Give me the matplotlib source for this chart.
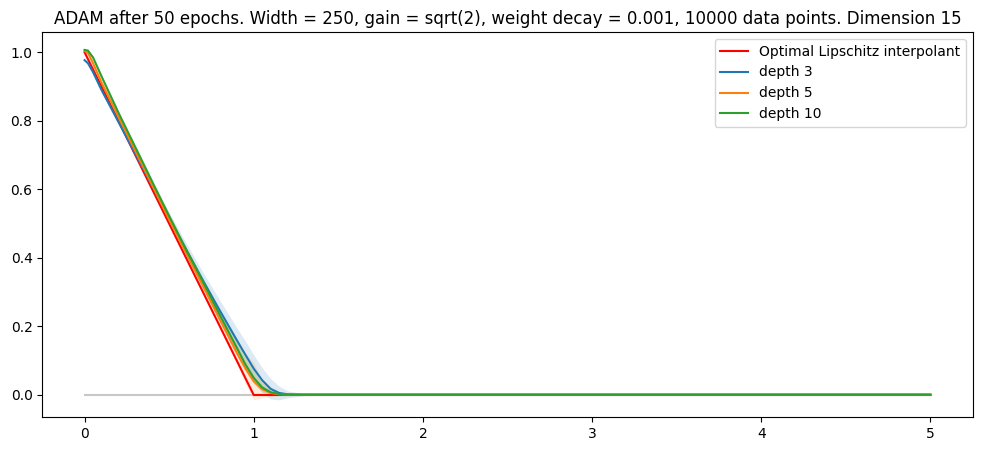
import numpy as np
import matplotlib.pyplot as plt

# sample positions (x)
x = [0, 0.02, 0.05, 0.1, 0.2, 0.3, 0.4, 0.5, 0.6, 0.7, 0.8, 0.9, 0.95,
     1.0, 1.05, 1.1, 1.15, 1.2, 1.3, 1.5, 2, 3, 4, 5]

# optimal Lipschitz interpolant
opt_x = [0, 1, 5]
opt_y = [1, 0, 0]

# mean network outputs
depth3 = [0.977, 0.968, 0.942, 0.890, 0.797, 0.704, 0.610, 0.517, 0.425, 0.334,
          0.246, 0.160, 0.118, 0.077, 0.043, 0.018, 0.006, 0.002, 0.001, 0.001,
          0.001, 0.001, 0.001, 0.001]
depth5 = [1.004, 0.998, 0.968, 0.912, 0.812, 0.712, 0.612, 0.512, 0.414, 0.318,
          0.220, 0.123, 0.078, 0.040, 0.017, 0.006, 0.002, 0.001, 0.001, 0.001,
          0.001, 0.001, 0.001, 0.001]
depth10 = [1.007, 1.005, 0.985, 0.930, 0.824, 0.723, 0.622, 0.522, 0.424, 0.330,
           0.233, 0.138, 0.090, 0.050, 0.022, 0.008, 0.003, 0.001, 0.001, 0.001,
           0.001, 0.001, 0.001, 0.001]

# spread between runs
std3 = [0.003, 0.004, 0.005, 0.006, 0.008, 0.010, 0.012, 0.015, 0.019, 0.024,
        0.030, 0.036, 0.040, 0.040, 0.036, 0.030, 0.020, 0.010, 0.003, 0.001,
        0.0005, 0.0005, 0.0005, 0.0005]
std5 = [0.004, 0.004, 0.005, 0.006, 0.008, 0.010, 0.012, 0.014, 0.017, 0.020,
        0.024, 0.030, 0.045, 0.054, 0.025, 0.010, 0.004, 0.002, 0.001, 0.001,
        0.0005, 0.0005, 0.0005, 0.0005]
std10 = [0.001, 0.002, 0.004, 0.005, 0.006, 0.007, 0.008, 0.009, 0.010, 0.012,
         0.014, 0.016, 0.018, 0.018, 0.013, 0.007, 0.003, 0.002, 0.001, 0.001,
         0.0005, 0.0005, 0.0005, 0.0005]

labels = ["depth 3", "depth 5", "depth 10"]
colors = ["tab:blue", "tab:orange", "tab:green"]

fig = plt.figure(figsize=(9.81, 4.51), dpi=100)
ax = fig.add_axes([0.0431, 0.0747, 0.9484, 0.8543])

ax.plot([0, 5], [0, 0], color="#c8c8c8", linewidth=1.5)
ax.plot(opt_x, opt_y, color="red", label="Optimal Lipschitz interpolant")

for mean, std, lab, col in zip([depth3, depth5, depth10], [std3, std5, std10], labels, colors):
    mean = np.array(mean)
    std = np.array(std)
    ax.plot(x, mean, color=col, label=lab)
    ax.fill_between(x, mean - std, mean + std, color=col, alpha=0.15, linewidth=0)

ax.set_title("ADAM after 50 epochs. Width = 250, gain = sqrt(2), weight decay = 0.001, "
             "10000 data points. Dimension 15")
ax.legend(loc="upper right")

fig.savefig("out.png", dpi=100)
